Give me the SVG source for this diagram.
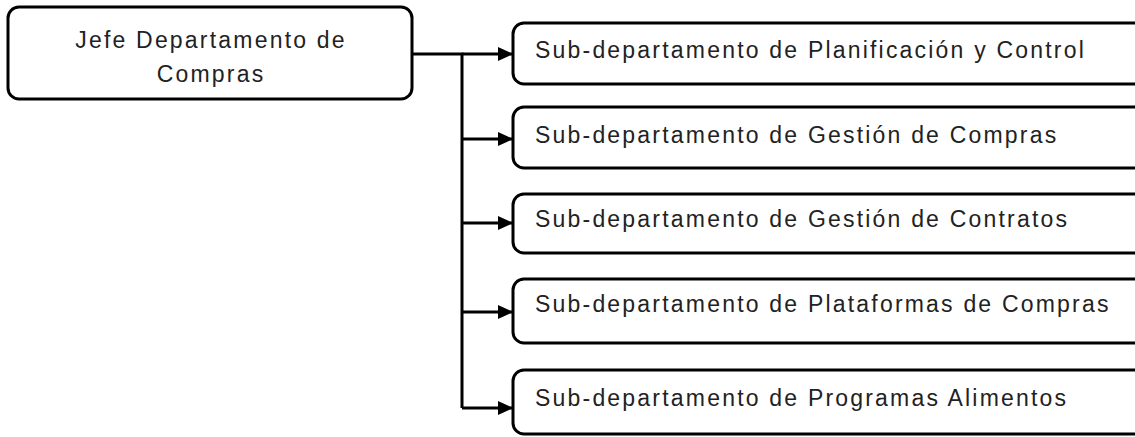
<svg xmlns="http://www.w3.org/2000/svg" width="1135" height="437" viewBox="0 0 1135 437">
  <style>
    .box { fill: #ffffff; stroke: #000000; stroke-width: 3; }
    .lbl { font-family: "Liberation Sans", Arial, sans-serif; font-size: 23px; letter-spacing: 2.2px; fill: #222222; }
    .wire { fill: none; stroke: #000000; stroke-width: 3; }
  </style>
  <defs>
    <marker id="arrow" markerUnits="userSpaceOnUse" markerWidth="16" markerHeight="14" refX="15" refY="7" orient="auto">
      <path d="M0,0 L15,7 L0,14 Z" fill="#000000"/>
    </marker>
  </defs>
  <rect width="1135" height="437" fill="#ffffff"/>

  <!-- connectors -->
  <g id="connectors">
    <path class="wire" d="M412,54 H462 V408"/>
    <path class="wire" d="M462,54 H513" marker-end="url(#arrow)"/>
    <path class="wire" d="M462,139 H513" marker-end="url(#arrow)"/>
    <path class="wire" d="M462,223 H513" marker-end="url(#arrow)"/>
    <path class="wire" d="M462,312 H513" marker-end="url(#arrow)"/>
    <path class="wire" d="M462,408 H513" marker-end="url(#arrow)"/>
  </g>

  <!-- head of department -->
  <g id="jefe">
    <rect class="box" x="8" y="7" width="404" height="92" rx="11"/>
    <text class="lbl" x="211" y="48" text-anchor="middle">Jefe Departamento de</text>
    <text class="lbl" x="211" y="82" text-anchor="middle">Compras</text>
  </g>

  <!-- sub-departments -->
  <g id="planificacion">
    <rect class="box" x="513" y="23" width="660" height="61" rx="11"/>
    <text class="lbl" x="535" y="58">Sub-departamento de Planificación y Control</text>
  </g>
  <g id="gestion-compras">
    <rect class="box" x="513" y="107" width="660" height="61" rx="11"/>
    <text class="lbl" x="535" y="143">Sub-departamento de Gestión de Compras</text>
  </g>
  <g id="gestion-contratos">
    <rect class="box" x="513" y="194" width="660" height="59" rx="11"/>
    <text class="lbl" x="535" y="227">Sub-departamento de Gestión de Contratos</text>
  </g>
  <g id="plataformas">
    <rect class="box" x="513" y="279" width="660" height="64" rx="11"/>
    <text class="lbl" x="535" y="312">Sub-departamento de Plataformas de Compras</text>
  </g>
  <g id="alimentos">
    <rect class="box" x="513" y="370" width="660" height="64" rx="11"/>
    <text class="lbl" x="535" y="406">Sub-departamento de Programas Alimentos</text>
  </g>
</svg>
